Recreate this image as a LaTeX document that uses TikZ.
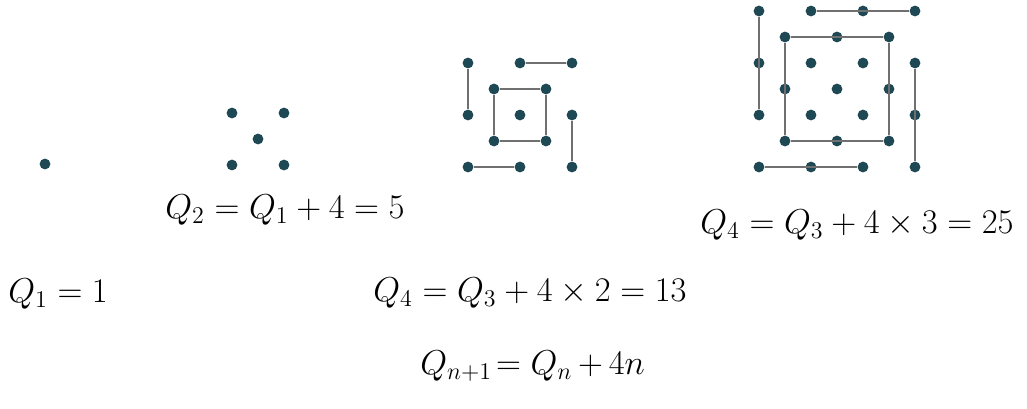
\documentclass[tikz,border=0pt]{standalone}
\usepackage{amsmath}
\definecolor{dotteal}{RGB}{30,72,84}
\definecolor{linegray}{RGB}{112,112,112}
\usetikzlibrary{positioning}

\begin{document}
\begin{tikzpicture}[x=0.5pt,y=-0.5pt,
  qdot/.style={circle,fill=dotteal,inner sep=0pt,minimum size=5.4pt},
  qline/.style={draw=linegray,line width=1.4pt},
  qlabel/.style={anchor=base west,inner sep=0pt,font=\fontsize{17}{20}\selectfont}
]
  \useasboundingbox (0,0) rectangle (1027,408);

  % Q1: a single dot
  \node[qdot] (q1) at (45,164) {};

  % Q2: four corners and a centre
  \begin{scope}[shift={(258,139)}]
    \foreach \i/\j in {0/0,2/0,1/1,0/2,2/2}
      \node[qdot] (q2-\i-\j) at ({26*(\i-1)},{26*(\j-1)}) {};
  \end{scope}

  % Q3: inner square plus four arms
  \begin{scope}[shift={(520,115)}]
    \foreach \i/\j in {0/0,2/0,4/0,0/2,4/2,0/4,2/4,4/4,1/1,3/1,1/3,3/3,2/2}
      \node[qdot] (q3-\i-\j) at ({26*(\i-2)},{26*(\j-2)}) {};
  \end{scope}
  \draw[qline] (q3-0-0) -- (q3-0-2);
  \draw[qline] (q3-2-0) -- (q3-4-0);
  \draw[qline] (q3-4-2) -- (q3-4-4);
  \draw[qline] (q3-0-4) -- (q3-2-4);
  \draw[qline] (q3-1-1) -- (q3-3-1) -- (q3-3-3) -- (q3-1-3) -- (q3-1-1);

  % Q4: Q3 pattern grown by one ring
  \begin{scope}[shift={(837,89)}]
    \foreach \i/\j in {0/0,2/0,4/0,6/0,0/2,0/4,6/2,6/4,0/6,2/6,4/6,6/6,
                       1/1,3/1,5/1,1/3,5/3,1/5,3/5,5/5,
                       2/2,4/2,3/3,2/4,4/4}
      \node[qdot] (q4-\i-\j) at ({26*(\i-3)},{26*(\j-3)}) {};
  \end{scope}
  \draw[qline] (q4-0-0) -- (q4-0-4);
  \draw[qline] (q4-2-0) -- (q4-6-0);
  \draw[qline] (q4-6-2) -- (q4-6-6);
  \draw[qline] (q4-0-6) -- (q4-4-6);
  \draw[qline] (q4-1-1) -- (q4-5-1) -- (q4-5-5) -- (q4-1-5) -- (q4-1-1);

  % Labels
  \node[qlabel] (lblone) at (8,302) {$Q_1 = 1$};
  \node[qlabel] (lbltwo) at (165,218) {$Q_2 = Q_1 + 4 = 5$};
  \node[qlabel] (lblthree) at (373,301) {$Q_4 = Q_3 + 4 \times 2 = 13$};
  \node[qlabel] (lblfour) at (700,233) {$Q_4 = Q_3 + 4 \times 3 = 25$};
  \node[qlabel,font=\fontsize{17.5}{21}\selectfont] (lblrec) at (420,374)
    {\medmuskip=3mu$Q_{n+1}\!= Q_n + 4n$};
\end{tikzpicture}
\end{document}
